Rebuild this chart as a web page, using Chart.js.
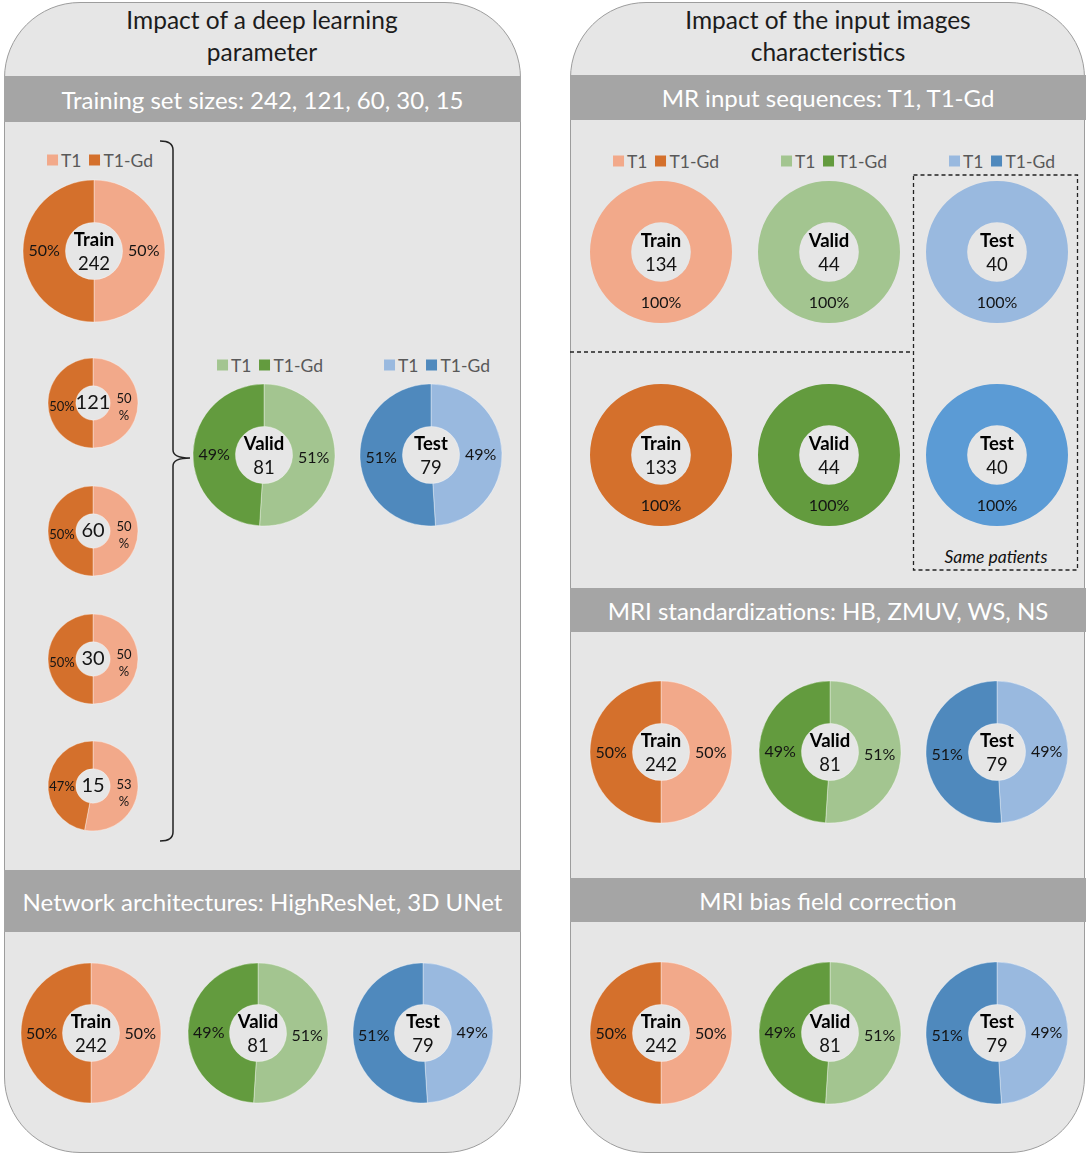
<!DOCTYPE html>
<html>
<head>
<meta charset="utf-8">
<script src="https://cdn.jsdelivr.net/npm/chart.js@4.4.1/dist/chart.umd.min.js"></script>
<style>
  body { margin: 0; background: #fff; font-family: Lato, 'Open Sans', sans-serif; }
  #board { position: relative; width: 1086px; height: 1157px; overflow: hidden; }
  .panel { position: absolute; top: 2px; height: 1151px; box-sizing: border-box;
           background: #e6e6e6; border: 1px solid #9d9d9d; border-radius: 76px; }
  .title { position: absolute; top: 4px; width: 516px; text-align: center;
           font-size: 24.5px; line-height: 32px; color: #1c1c1c; }
  .bar { position: absolute; background: #a5a5a5; color: #fff; font-size: 24px;
         display: flex; align-items: center; justify-content: center; }
  .legend { position: absolute; display: flex; align-items: center; font-size: 17.5px;
            color: #595959; transform: translate(-50%, -50%); white-space: nowrap; }
  .legend i { display: inline-block; width: 11px; height: 11px; margin-right: 3px; }
  .legend span { margin-right: 8px; }
  .legend span:last-child { margin-right: 0; }
  canvas.donut { position: absolute; }
  #marks { position: absolute; left: 0; top: 0; }
  .note { position: absolute; font-style: italic; font-size: 17.5px; color: #111;
          transform: translate(-50%, -50%); white-space: nowrap; }
</style>
</head>
<body>
<div id="board">
  <div class="panel" style="left:4px;width:517px"></div>
  <div class="panel" style="left:570px;width:515px"></div>

  <div class="title" style="left:4px">Impact of a deep learning<br>parameter</div>
  <div class="title" style="left:570px">Impact of the input images<br>characteristics</div>

  <div class="bar" style="left:4px;top:76px;width:517px;height:46px">Training set sizes: 242, 121, 60, 30, 15</div>
  <div class="bar" style="left:4px;top:870px;width:517px;height:62px">Network architectures: HighResNet, 3D UNet</div>
  <div class="bar" style="left:570px;top:75px;width:516px;height:45px">MR input sequences: T1, T1-Gd</div>
  <div class="bar" style="left:570px;top:588px;width:516px;height:44px">MRI standardizations: HB, ZMUV, WS, NS</div>
  <div class="bar" style="left:570px;top:878px;width:516px;height:44px">MRI bias field correction</div>

  <svg id="marks" width="1086" height="1157">
    <path d="M160,141 Q173,141 173,150 L173,450 Q173,458 190,458 Q173,458 173,466 L173,832 Q173,841 160,841"
          fill="none" stroke="#222" stroke-width="1.5"/>
    <line x1="570" y1="352" x2="913" y2="352" stroke="#222" stroke-width="1.3" stroke-dasharray="4,3"/>
    <rect x="913.5" y="175" width="164" height="395" fill="none" stroke="#222" stroke-width="1.3" stroke-dasharray="4,3"/>
  </svg>
  <div class="note" style="left:996px;top:556px">Same patients</div>
</div>

<script>
// split names and their T1 / T1-Gd share (%)
const splitNames = ['Train', 'Valid', 'Test'];
const splitTotals = [242, 81, 79];
const splitT1Pct = [50, 51, 49];
const splitGdPct = [50, 49, 51];

// reduced training sets
const trainSizes = [242, 121, 60, 30, 15];
const trainSizeT1Pct = [50, 50, 50, 50, 53];
const trainSizeGdPct = [50, 50, 50, 50, 47];

// single-sequence experiments
const seqT1Totals = [134, 44, 40];
const seqGdTotals = [133, 44, 40];
const seqOnlyPct = [100, 0];

const seriesNames = ['T1', 'T1-Gd'];

const palette = {
  Train: { light: '#f2a98a', dark: '#d4702c', solid: '#d4702c' },
  Valid: { light: '#a3c590', dark: '#639b3e', solid: '#639b3e' },
  Test:  { light: '#99b9df', dark: '#4f89bd', solid: '#5b9bd5' },
};

const board = document.getElementById('board');

// draws percentages inside the ring and the caption in the hole
const donutLabels = {
  id: 'donutLabels',
  afterDatasetsDraw(chart, args, opts) {
    const { ctx } = chart;
    const values = chart.data.datasets[0].data;
    ctx.save();
    ctx.textAlign = 'center';
    ctx.textBaseline = 'middle';
    ctx.fillStyle = '#141414';
    let cx = 0, cy = 0;
    chart.getDatasetMeta(0).data.forEach((arc, i) => {
      const p = arc.getProps(['x', 'y', 'startAngle', 'endAngle', 'innerRadius', 'outerRadius'], true);
      cx = p.x; cy = p.y;
      if (!values[i]) return;
      const mid = (p.startAngle + p.endAngle) / 2;
      const r = (p.innerRadius + p.outerRadius) / 2 + (opts.shift || 0);
      const lx = p.x + Math.cos(mid) * r;
      const ly = p.y + Math.sin(mid) * r + (opts.dy || 0);
      ctx.font = opts.pctFont;
      if (opts.wrapRight && Math.cos(mid) > 0.5) {
        ctx.fillText(String(values[i]), lx, ly - 8);
        ctx.fillText('%', lx, ly + 9);
      } else {
        ctx.fillText(values[i] + '%', lx, ly);
      }
    });
    if (opts.name) {
      ctx.fillStyle = '#000';
      ctx.font = 'bold 18.5px Lato, sans-serif';
      ctx.fillText(opts.name, cx, cy - 11);
      ctx.fillStyle = '#141414';
      ctx.font = '18.5px Lato, sans-serif';
      ctx.fillText(String(opts.total), cx, cy + 13);
    } else {
      ctx.font = '20px Lato, sans-serif';
      ctx.fillText(String(opts.total), cx, cy);
    }
    ctx.restore();
  }
};

function donut(cx, cy, outer, inner, values, colors, labelOpts) {
  const size = Math.ceil(outer * 2 + 8);
  const canvas = document.createElement('canvas');
  canvas.className = 'donut';
  canvas.width = size;
  canvas.height = size;
  canvas.style.left = (cx - size / 2) + 'px';
  canvas.style.top = (cy - size / 2) + 'px';
  board.appendChild(canvas);
  // a full ring gets no seam line
  const seam = values.some(v => v === 0) ? 0 : 0.8;
  new Chart(canvas, {
    type: 'doughnut',
    data: {
      labels: seriesNames,
      datasets: [{ data: values, backgroundColor: colors, borderColor: 'rgba(255,255,255,0.45)', borderWidth: seam }],
    },
    options: {
      responsive: false,
      animation: false,
      radius: outer,
      cutout: inner,
      layout: { padding: 0 },
      events: [],
      plugins: {
        legend: { display: false },
        tooltip: { enabled: false },
        donutLabels: labelOpts,
      },
    },
    plugins: [donutLabels],
  });
}

function legend(cx, cy, light, dark) {
  const el = document.createElement('div');
  el.className = 'legend';
  el.style.left = cx + 'px';
  el.style.top = cy + 'px';
  el.innerHTML = `<i style="background:${light}"></i><span>${seriesNames[0]}</span>` +
                 `<i style="background:${dark}"></i><span>${seriesNames[1]}</span>`;
  board.appendChild(el);
}

const bigFont = '16px Lato, sans-serif';

function splitDonut(k, cx, cy, r) {
  const name = splitNames[k];
  const c = palette[name];
  donut(cx, cy, r, 30, [splitT1Pct[k], splitGdPct[k]], [c.light, c.dark],
        { name, total: splitTotals[k], pctFont: bigFont, dy: 1 });
}

// left panel: training set sizes
legend(100, 160, palette.Train.light, palette.Train.dark);
donut(94, 251, 71, 30, [trainSizeT1Pct[0], trainSizeGdPct[0]], [palette.Train.light, palette.Train.dark],
      { name: 'Train', total: trainSizes[0], pctFont: bigFont });
const smallY = [403, 531, 659, 786];
smallY.forEach((y, j) => {
  const k = j + 1;
  donut(93, y, 45, 18.5, [trainSizeT1Pct[k], trainSizeGdPct[k]], [palette.Train.light, palette.Train.dark],
        { total: trainSizes[k], pctFont: '13px Lato, sans-serif', wrapRight: true, dy: 4, shift: 0 });
});
legend(270, 365, palette.Valid.light, palette.Valid.dark);
legend(437, 365, palette.Test.light, palette.Test.dark);
splitDonut(1, 264, 455, 71);
splitDonut(2, 431, 455, 71);

// left panel: network architectures
splitDonut(0, 91, 1033, 70);
splitDonut(1, 258, 1033, 70);
splitDonut(2, 423, 1033, 70);

// right panel: input sequences
const seqX = [661, 829, 997];
seqX.forEach((x, k) => {
  const name = splitNames[k];
  const c = palette[name];
  legend(x + 5, 161, c.light, c.dark);
  donut(x, 252, 71, 31.5, seqOnlyPct, [c.light, c.dark], { name, total: seqT1Totals[k], pctFont: bigFont });
  donut(x, 455, 71, 31.5, seqOnlyPct, [c.solid, c.light], { name, total: seqGdTotals[k], pctFont: bigFont });
});

// right panel: standardizations and bias field correction
[752, 1033].forEach(y => {
  splitDonut(0, 661, y, 71);
  splitDonut(1, 830, y, 71);
  splitDonut(2, 997, y, 71);
});
</script>
</body>
</html>
